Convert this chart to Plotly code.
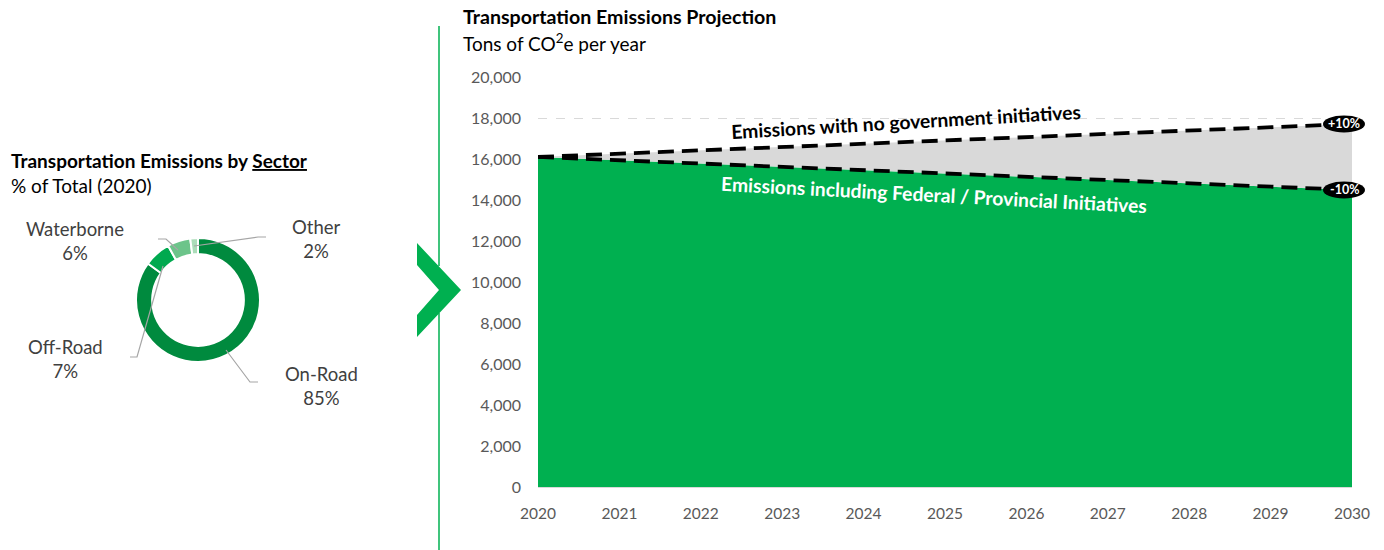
import plotly.graph_objects as go

W, H = 1384, 550

# ---- data ----
years = [2020, 2021, 2022, 2023, 2024, 2025, 2026, 2027, 2028, 2029, 2030]
no_initiatives = [16100, 16260, 16420, 16580, 16740, 16900, 17060, 17220, 17390, 17550, 17710]
with_initiatives = [16100, 15940, 15780, 15620, 15460, 15300, 15130, 14970, 14810, 14650, 14490]
end_labels = ["+10%", "-10%"]

sectors = ["On-Road", "Off-Road", "Waterborne", "Other"]
sector_share = [85, 7, 6, 2]
sector_colors = ["#008A3E", "#00A94F", "#6CC48A", "#ABDDB9"]

y_ticks = [0, 2000, 4000, 6000, 8000, 10000, 12000, 14000, 16000, 18000, 20000]

FONT = "Lato"
GREEN = "#00B050"

def px_x(x):
    return x / W

def px_y(y):
    return 1 - y / H

X_DOM = [px_x(538), px_x(1352)]
Y_DOM = [px_y(487), px_y(77)]
X_RANGE = [2020, 2030]
Y_RANGE = [0, 20000]

def data_to_paper(xv, yv):
    xp = X_DOM[0] + (xv - X_RANGE[0]) / (X_RANGE[1] - X_RANGE[0]) * (X_DOM[1] - X_DOM[0])
    yp = Y_DOM[0] + (yv - Y_RANGE[0]) / (Y_RANGE[1] - Y_RANGE[0]) * (Y_DOM[1] - Y_DOM[0])
    return xp, yp

fig = go.Figure()

# ---- projection area chart ----
fig.add_trace(go.Scatter(x=years, y=with_initiatives, mode="lines", fill="tozeroy",
                         fillcolor=GREEN, line=dict(width=0, color=GREEN),
                         hoverinfo="skip", showlegend=False))
fig.add_trace(go.Scatter(x=years, y=no_initiatives, mode="lines", fill="tonexty",
                         fillcolor="#D9D9D9", line=dict(width=0, color="#D9D9D9"),
                         hoverinfo="skip", showlegend=False))
for series in (no_initiatives, with_initiatives):
    fig.add_trace(go.Scatter(x=years, y=series, mode="lines",
                             line=dict(color="black", width=3.8, dash="16px,8px"),
                             hoverinfo="skip", showlegend=False))

# ---- donut ----
cx, cy, r = 198, 300, 62
fig.add_trace(go.Pie(labels=sectors, values=sector_share, sort=False,
                     direction="clockwise", rotation=0, hole=0.74,
                     marker=dict(colors=sector_colors, line=dict(color="white", width=2)),
                     textinfo="none", hoverinfo="label+percent", showlegend=False,
                     domain=dict(x=[px_x(cx - r), px_x(cx + r)],
                                 y=[px_y(cy + r), px_y(cy - r)])))

fig.update_layout(
    width=W, height=H,
    margin=dict(l=0, r=0, t=0, b=0, pad=0, autoexpand=False),
    paper_bgcolor="white", plot_bgcolor="white",
    font=dict(family=FONT, color="#595959"),
    xaxis=dict(domain=X_DOM, range=X_RANGE, automargin=False,
               tickmode="array", tickvals=years, ticktext=[str(y) for y in years],
               showgrid=False, zeroline=False, showline=True, linecolor="#D9D9D9",
               linewidth=1, ticks="", ticklabelstandoff=12,
               tickfont=dict(size=15.5, color="#595959", family=FONT)),
    yaxis=dict(domain=Y_DOM, range=Y_RANGE, automargin=False,
               tickmode="array", tickvals=y_ticks, tickformat=",d",
               showgrid=True, gridcolor="#D9D9D9", griddash="dash", gridwidth=1,
               zeroline=False, showline=False, ticks="", ticklabelstandoff=16,
               tickfont=dict(size=16, color="#595959", family=FONT)),
)

annotations = []
shapes = []

# end-of-line ellipse labels
for series, lab in zip((no_initiatives, with_initiatives), end_labels):
    xp, yp = data_to_paper(years[-1], series[-1])
    cxp = xp - 8 / W
    shapes.append(dict(type="circle", xref="paper", yref="paper",
                       x0=cxp - 21 / W, x1=cxp + 21 / W, y0=yp - 8.5 / H, y1=yp + 8.5 / H,
                       fillcolor="black", line=dict(width=0), layer="above"))
    annotations.append(dict(x=cxp, y=yp, xref="paper", yref="paper", text=f"<b>{lab}</b>",
                            showarrow=False, xanchor="center", yanchor="middle",
                            font=dict(size=12.5, color="white", family=FONT)))

def note(x, y, text, size, color="black", angle=0, xanchor="center"):
    annotations.append(dict(x=px_x(x), y=px_y(y), xref="paper", yref="paper",
                            xanchor=xanchor, yanchor="middle", text=text, showarrow=False,
                            textangle=angle, font=dict(size=size, color=color, family=FONT)))

# in-chart text labels
note(906, 122, "<b>Emissions with no government initiatives</b>", 19.3, "black", -3.3)
note(934, 194, "<b>Emissions including Federal / Provincial Initiatives</b>", 19.3, "white", 3.0)

# titles
note(461, 17, "<b>Transportation Emissions Projection</b>", 19.6, xanchor="left")
note(461, 43, "Tons of CO<sup>2</sup>e per year", 19, xanchor="left")
note(9, 160, "<b>Transportation Emissions by <u>Sector</u></b>", 19, xanchor="left")
note(9, 186, "% of Total (2020)", 19, xanchor="left")

# donut labels
label_pos = {"Waterborne": (75, 241), "Other": (316, 239), "Off-Road": (65, 359), "On-Road": (321, 386)}
for name, val in zip(sectors, sector_share):
    x, y = label_pos[name]
    note(x, y, f"{name}<br>{val}%", 18.5, "#404040")

# leader lines
def path(pts):
    return "M " + " L ".join(f"{px_x(a)},{px_y(b)}" for a, b in pts)

leaders = [
    [(226, 350), (250, 382), (258, 382)],   # On-Road
    [(163, 266), (137, 357), (130, 357)],   # Off-Road
    [(178, 250), (166, 239), (158, 239)],   # Waterborne
    [(194, 246), (258, 237), (266, 237)],   # Other
]
for pts in leaders:
    shapes.append(dict(type="path", xref="paper", yref="paper", path=path(pts),
                       line=dict(color="#A6A6A6", width=1.2), layer="above"))

# separator line and chevron
shapes.append(dict(type="line", xref="paper", yref="paper", x0=px_x(439), x1=px_x(439),
                   y0=px_y(26), y1=px_y(266), line=dict(color=GREEN, width=1.5)))
shapes.append(dict(type="line", xref="paper", yref="paper", x0=px_x(439), x1=px_x(439),
                   y0=px_y(313), y1=px_y(550), line=dict(color=GREEN, width=1.5)))
shapes.append(dict(type="path", xref="paper", yref="paper",
                   path=path([(417, 243), (461, 290), (417, 337), (417, 315), (439, 290), (417, 265)]) + " Z",
                   fillcolor=GREEN, line=dict(width=0)))

fig.update_layout(annotations=annotations, shapes=shapes)

fig.write_html("out.html")
